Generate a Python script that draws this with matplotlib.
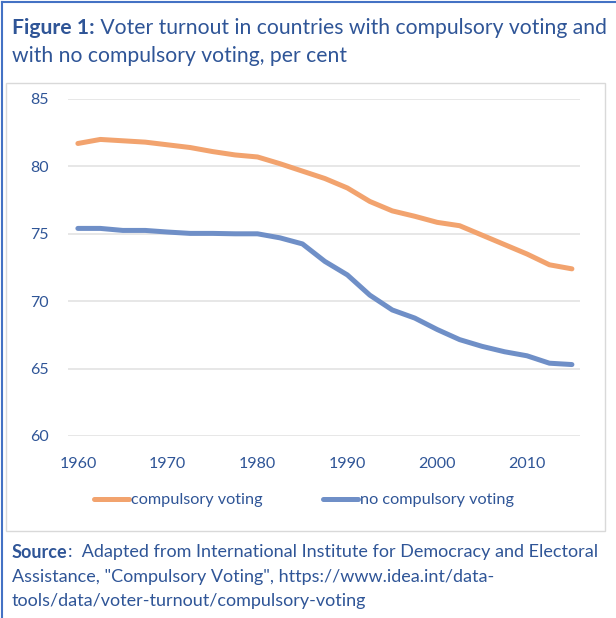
import matplotlib
matplotlib.use("Agg")
import matplotlib.pyplot as plt
from matplotlib.patches import Rectangle

# data (per cent)
years = [1960, 1962.5, 1965, 1967.5, 1970, 1972.5, 1975, 1977.5, 1980, 1982.5,
         1985, 1987.5, 1990, 1992.5, 1995, 1997.5, 2000, 2002.5, 2005, 2007.5,
         2010, 2012.5, 2015]
compulsory = [81.7, 82.0, 81.9, 81.8, 81.6, 81.4, 81.1, 80.85, 80.7, 80.2,
              79.65, 79.1, 78.4, 77.4, 76.7, 76.3, 75.85, 75.6, 74.9, 74.2,
              73.5, 72.7, 72.4]
no_compulsory = [75.4, 75.4, 75.25, 75.25, 75.13, 75.03, 75.03, 75.0, 75.0, 74.7,
                 74.25, 72.95, 71.95, 70.45, 69.35, 68.75, 67.9, 67.15, 66.65, 66.25,
                 65.95, 65.4, 65.3]
x_ticks = [1960, 1970, 1980, 1990, 2000, 2010]
y_ticks = [60, 65, 70, 75, 80, 85]

W, H = 616, 618
ORANGE = "#F2A36E"
BLUE = "#6F8FC7"
TEXT = "#2F5597"
FONT = "Lato"

plt.rcParams["font.family"] = FONT

fig = plt.figure(figsize=(W / 100, H / 100), dpi=100)
renderer = fig.canvas.get_renderer()


def fx(x):
    return x / W


def fy(y):
    return 1 - y / H


def two_part(x, y, bold, rest, size):
    # bold prefix followed by normal text on the same line
    t = fig.text(fx(x), fy(y), bold, fontsize=size, fontweight="bold",
                 color=TEXT, va="center")
    w = t.get_window_extent(renderer).width
    fig.text(fx(x + w), fy(y), rest, fontsize=size, color=TEXT, va="center")


# outer frame (blue) and inner chart box (grey)
fig.add_artist(plt.Line2D([fx(2), fx(2)], [0, fy(2)], color="#4472C4", lw=1.5))
fig.add_artist(plt.Line2D([fx(2), 1], [fy(2), fy(2)], color="#4472C4", lw=1.5))
fig.add_artist(Rectangle((fx(6), fy(531)), fx(605 - 6), (531 - 83) / H,
                         fill=False, edgecolor="#D9D9D9", lw=1.0))

# title
two_part(12, 28, "Figure 1:", " Voter turnout in countries with compulsory voting and", 15.2)
fig.text(fx(12), fy(56), "with no compulsory voting, per cent",
         fontsize=15.2, color=TEXT, va="center")

ax = fig.add_axes([fx(68), fy(436), fx(580 - 68), (436 - 99) / H])
l1, = ax.plot(years, compulsory, color=ORANGE, lw=3.6, solid_capstyle="round",
              label="compulsory voting")
l2, = ax.plot(years, no_compulsory, color=BLUE, lw=3.6, solid_capstyle="round",
              label="no compulsory voting")

ax.set_xlim(1958.9, 2015.9)
ax.set_ylim(60, 85)
ax.set_xticks(x_ticks)
ax.set_yticks(y_ticks)
ax.grid(axis="y", color="#E3E3E3", lw=1.2)
ax.set_axisbelow(True)
for s in ax.spines.values():
    s.set_visible(False)
ax.tick_params(length=0, labelsize=11.5, labelcolor=TEXT)
ax.tick_params(axis="y", pad=14)
ax.tick_params(axis="x", pad=15)

leg = fig.legend(handles=[l1, l2], loc="center", bbox_to_anchor=(fx(304), fy(500)),
                 ncol=2, frameon=False, fontsize=11.7, handlelength=2.15,
                 handletextpad=0.12, columnspacing=3.75)
for t in leg.get_texts():
    t.set_color(TEXT)

# source note
two_part(12, 552, "Source", ":  Adapted from International Institute for Democracy and Electoral", 13)
fig.text(fx(12), fy(577),
         "Assistance, \"Compulsory Voting\", https://www.idea.int/data-",
         fontsize=13, color=TEXT, va="center")
fig.text(fx(12), fy(601), "tools/data/voter-turnout/compulsory-voting",
         fontsize=13, color=TEXT, va="center")

fig.savefig("out.png", dpi=100)
